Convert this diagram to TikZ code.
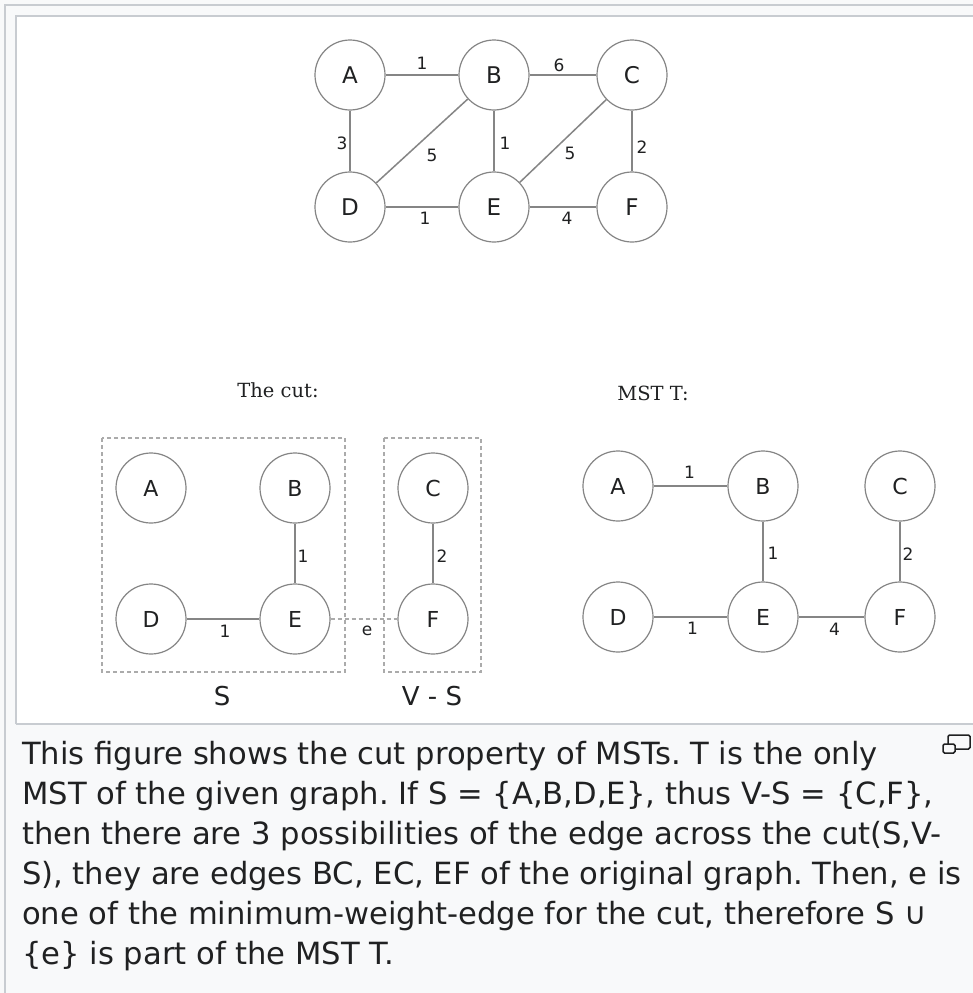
\documentclass[tikz,border=0pt]{standalone}
\usepackage{fontspec}
\setmainfont{DejaVu Sans}
\newfontfamily\serifttl{DejaVu Serif}
\definecolor{framebg}{HTML}{F8F9FA}
\definecolor{framebd}{HTML}{C8CCD1}
\definecolor{captxt}{HTML}{202122}
\definecolor{linegray}{HTML}{858585}
\definecolor{dashgray}{HTML}{ABABAB}
\frenchspacing
\begin{document}
\begin{tikzpicture}[x=1pt,y=-1pt,
  vtx/.style={circle, draw=linegray, line width=1.2pt, minimum size=70pt, inner sep=0pt,
    font=\fontsize{22}{22}\selectfont, text=captxt},
  topvtx/.style={vtx, font=\fontsize{23}{23}\selectfont},
  edg/.style={draw=linegray, line width=1.5pt},
  cutedg/.style={draw=dashgray, line width=1.3pt, dash pattern=on 4pt off 3pt},
  cutbox/.style={draw=dashgray, line width=1.3pt, dash pattern=on 4pt off 3pt},
  lbl/.style={font=\fontsize{17}{17}\selectfont, text=captxt, inner sep=0pt},
  setlbl/.style={font=\fontsize{26}{26}\selectfont, text=captxt, inner sep=0pt},
  ttl/.style={font=\serifttl\fontsize{19.5}{19.5}\selectfont, text=captxt, inner sep=0pt},
  captext/.style={font=\fontsize{30.6}{36}\selectfont, text=captxt, inner sep=0pt, anchor=base west},
  iconbox/.style={draw=captxt, line width=1.5pt, rounded corners=1.5pt}]
\useasboundingbox (0,0) rectangle (973,993);
% frame
\fill[framebg] (0,0) rectangle (973,993);
\draw[framebd, line width=1.5pt] (5,1000) -- (5,5) -- (985,5);
\fill[white] (16,16) rectangle (985,724);
\draw[framebd, line width=1.5pt] (16,724) -- (16,16) -- (985,16);
\draw[framebd, line width=1.5pt] (16,724) -- (985,724);

% ---------- top graph ----------
\node[topvtx] (A) at (350,75) {A};
\node[topvtx] (B) at (494,75) {B};
\node[topvtx] (C) at (632,75) {C};
\node[topvtx] (D) at (350,207) {D};
\node[topvtx] (E) at (494,207) {E};
\node[topvtx] (F) at (632,207) {F};
\draw[edg] (A) -- node[lbl, yshift=12pt] {1} (B);
\draw[edg] (B) -- node[lbl, xshift=-4pt, yshift=10pt] {6} (C);
\draw[edg] (A) -- node[lbl, xshift=-8pt, yshift=-2pt] {3} (D);
\draw[edg] (B) -- node[lbl, xshift=10pt, yshift=-14pt] {5} (D);
\draw[edg] (B) -- node[lbl, xshift=11pt, yshift=-2pt] {1} (E);
\draw[edg] (C) -- node[lbl, xshift=7pt, yshift=-12pt] {5} (E);
\draw[edg] (C) -- node[lbl, xshift=10pt, yshift=-6pt] {2} (F);
\draw[edg] (D) -- node[lbl, xshift=3pt, yshift=-11pt] {1} (E);
\draw[edg] (E) -- node[lbl, xshift=4pt, yshift=-11pt] {4} (F);

% ---------- the cut ----------
\node[ttl] (cuttitle) at (278,390) {The cut:};
\node[vtx] (cA) at (151,488) {A};
\node[vtx] (cB) at (295,488) {B};
\node[vtx] (cC) at (433,488) {C};
\node[vtx] (cD) at (151,619) {D};
\node[vtx] (cE) at (295,619) {E};
\node[vtx] (cF) at (433,619) {F};
\draw[cutbox] (102,438) rectangle (345,672);
\draw[cutbox] (384,438) rectangle (481,672);
\draw[edg] (cB) -- node[lbl, xshift=8pt, yshift=-3pt] {1} (cE);
\draw[edg] (cC) -- node[lbl, xshift=9pt, yshift=-3pt] {2} (cF);
\draw[edg] (cD) -- node[lbl, xshift=2pt, yshift=-12pt] {1} (cE);
\draw[cutedg] (cE) -- node[lbl, xshift=3pt, yshift=-12pt] {e} (cF);
\node[setlbl] (Slbl) at (222,696) {S};
\node[setlbl] (VSlbl) at (432,696) {V - S};

% ---------- MST ----------
\node[ttl] (msttitle) at (653,393) {MST T:};
\node[vtx] (mA) at (618,486) {A};
\node[vtx] (mB) at (763,486) {B};
\node[vtx] (mC) at (900,486) {C};
\node[vtx] (mD) at (618,617) {D};
\node[vtx] (mE) at (763,617) {E};
\node[vtx] (mF) at (900,617) {F};
\draw[edg] (mA) -- node[lbl, xshift=-1pt, yshift=14pt] {1} (mB);
\draw[edg] (mB) -- node[lbl, xshift=10pt, yshift=-2pt] {1} (mE);
\draw[edg] (mC) -- node[lbl, xshift=8pt, yshift=-3pt] {2} (mF);
\draw[edg] (mD) -- node[lbl, xshift=2pt, yshift=-11pt] {1} (mE);
\draw[edg] (mE) -- node[lbl, xshift=3pt, yshift=-12pt] {4} (mF);

% ---------- caption ----------
\node[captext] (cap1) at (22,764) {This figure shows the cut property of MSTs. T is the only};
\node[captext] (cap2) at (22,804) {MST of the given graph. If S = \{A,B,D,E\}, thus V-S = \{C,F\},};
\node[captext] (cap3) at (22,844) {then there are 3 possibilities of the edge across the cut(S,V-};
\node[captext] (cap4) at (22,884) {S), they are edges BC, EC, EF of the original graph. Then, e is};
\node[captext] (cap5) at (22,924) {one of the minimum-weight-edge for the cut, therefore S ∪};
\node[captext] (cap6) at (22,964) {\{e\} is part of the MST T.};

% enlarge icon
\draw[iconbox] (948,735) rectangle (970,749);
\filldraw[iconbox, fill=framebg] (943,744) rectangle (955,753);
\end{tikzpicture}
\end{document}
